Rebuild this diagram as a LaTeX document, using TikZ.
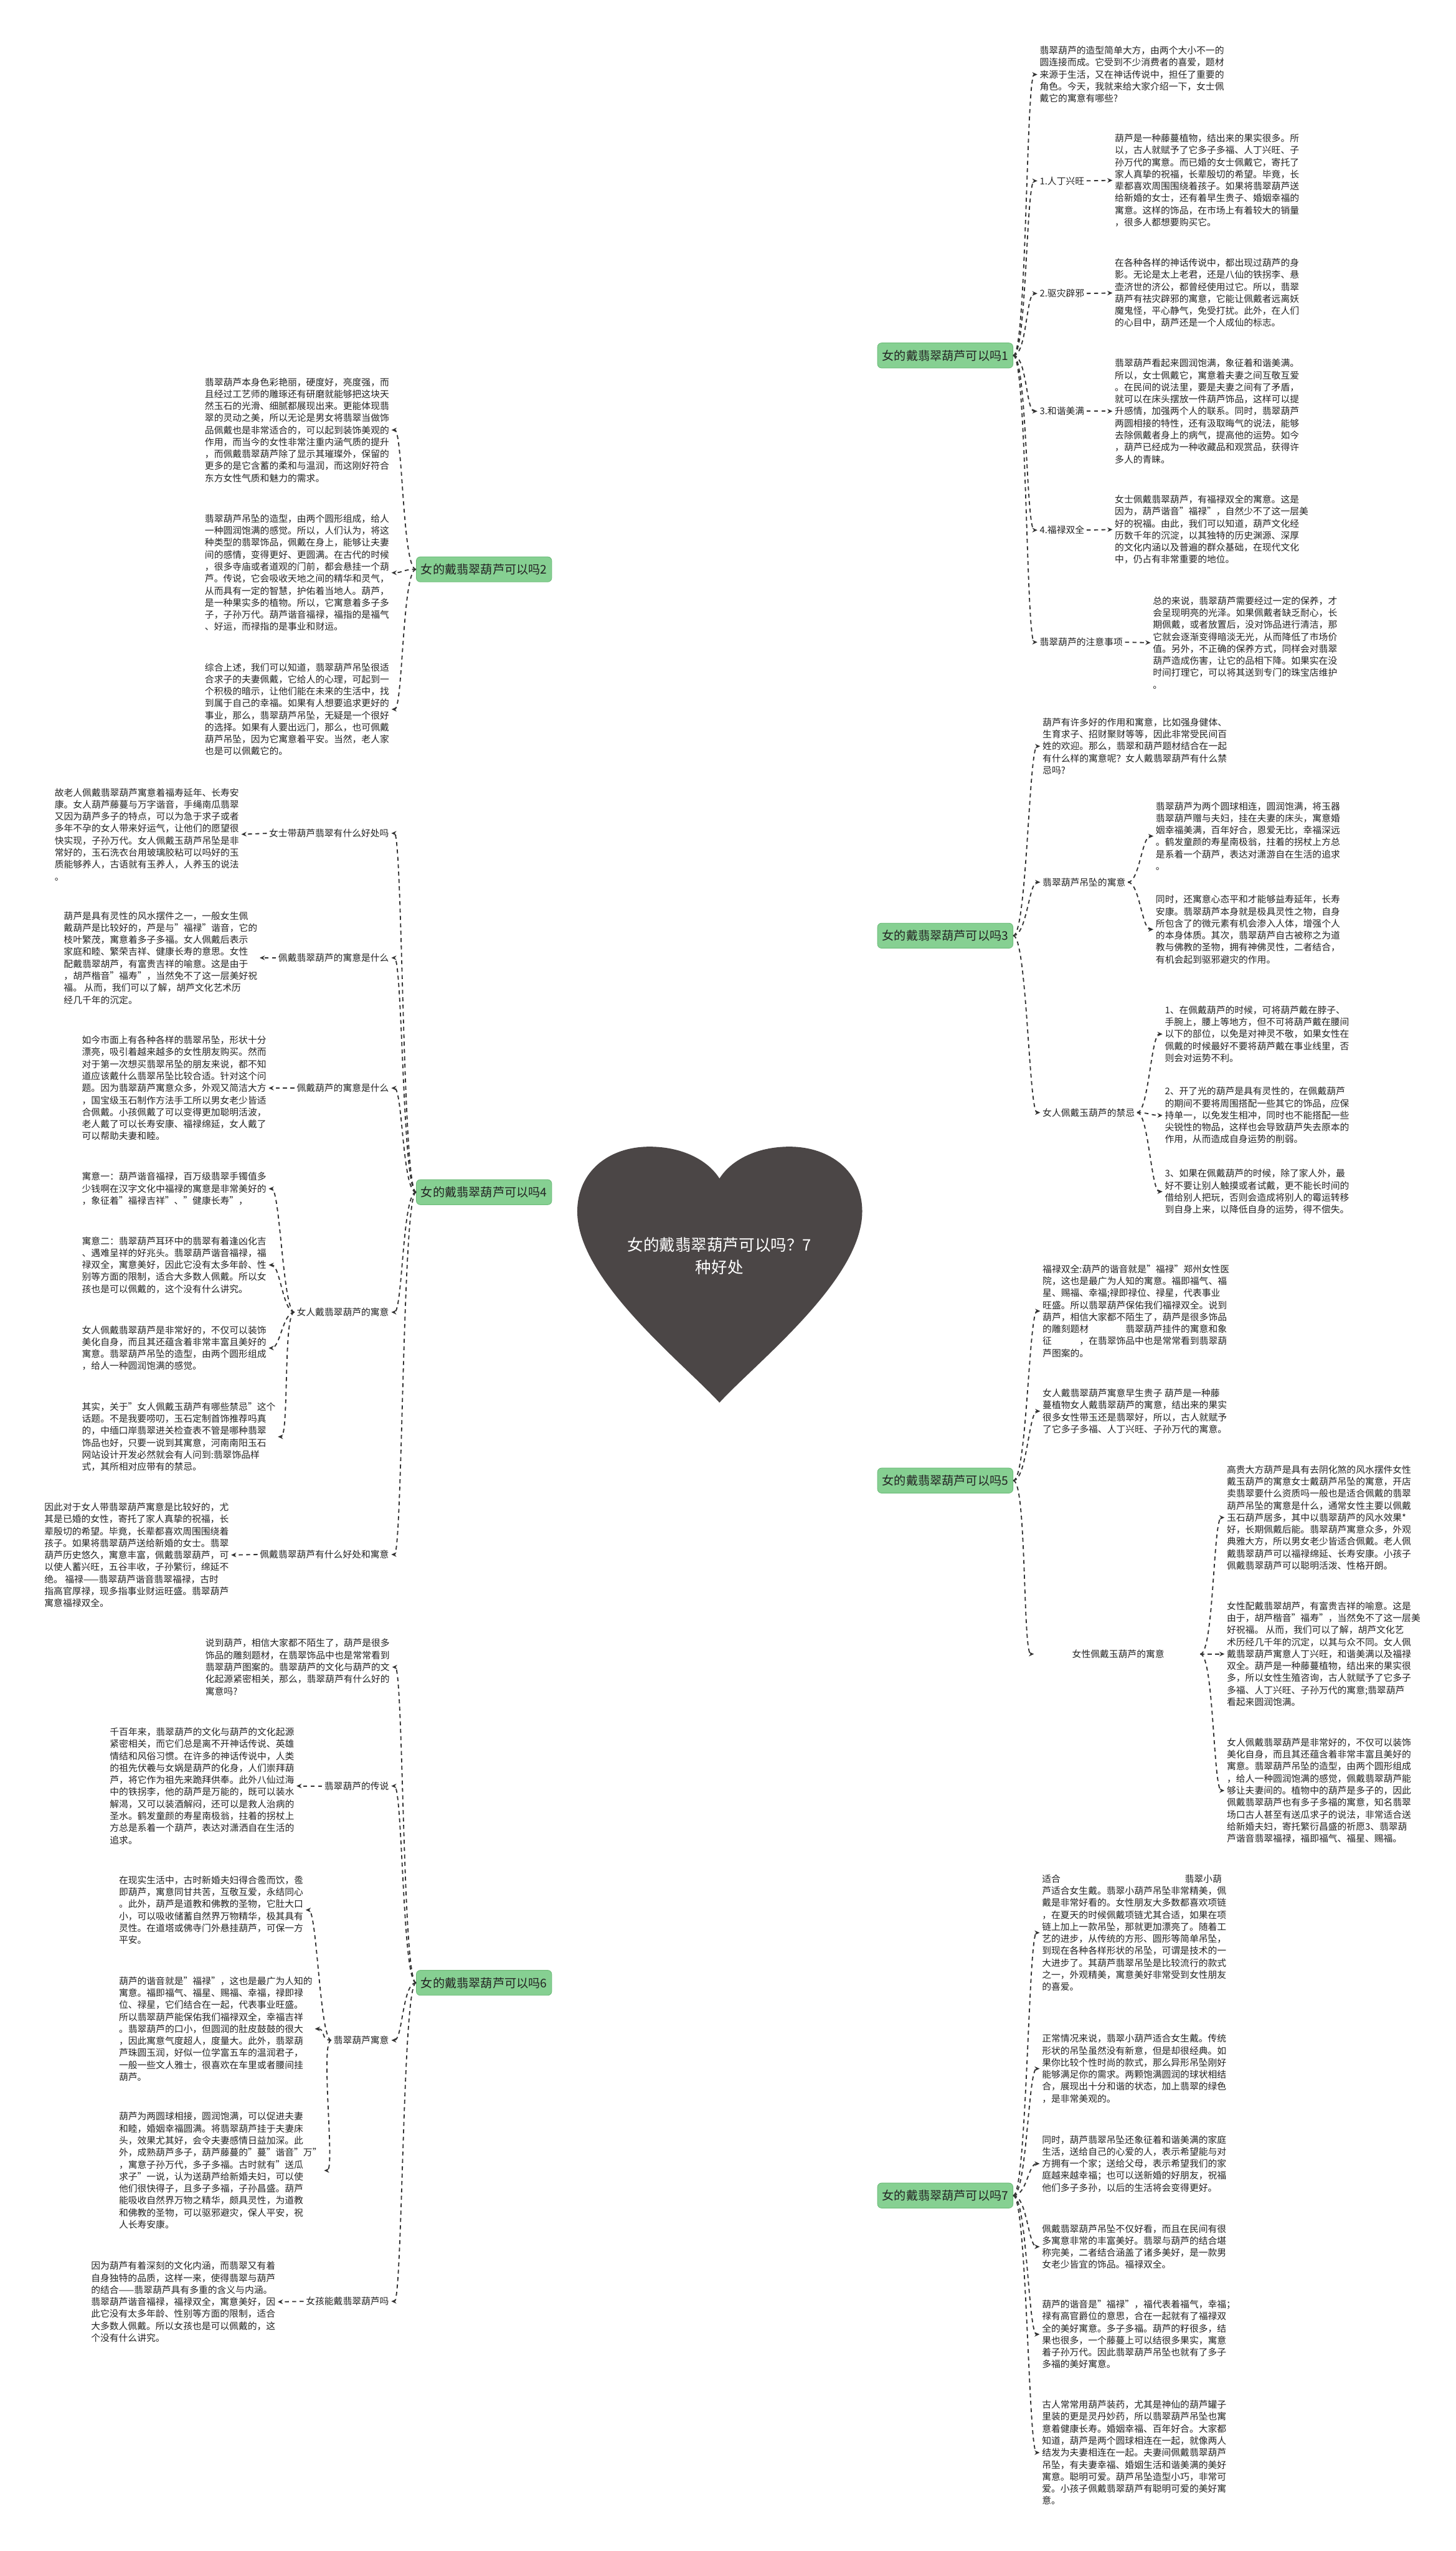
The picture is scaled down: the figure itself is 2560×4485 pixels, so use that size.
\documentclass[tikz,border=0pt]{standalone}
\usepackage{fontspec}
\setmainfont{Noto Sans CJK SC}
\usetikzlibrary{arrows.meta}

\definecolor{heartgray}{RGB}{75,70,70}
\definecolor{leafgreen}{RGB}{134,208,146}
\definecolor{leafedge}{RGB}{110,188,122}
\definecolor{inkgray}{RGB}{35,35,35}
\definecolor{linegray}{RGB}{50,50,50}

\pgfdeclarelayer{back}
\pgfsetlayers{back,main}

\begin{document}
\begin{tikzpicture}[x=1pt, y=-1pt,
	txt/.style={font=\fontsize{16.2pt}{21.1pt}\selectfont, align=left, inner sep=0pt, text=inkgray, anchor=west},
	lab/.style={font=\fontsize{16.2pt}{21.1pt}\selectfont, inner sep=0pt, text=inkgray},
	branch/.style={draw=leafedge, fill=leafgreen, line width=1pt, rounded corners=7pt,
		minimum width=238pt, minimum height=44pt, inner sep=0pt,
		font=\fontsize{21pt}{24pt}\selectfont, text=inkgray},
	conn/.style={draw=linegray, line width=2pt, dash pattern=on 7pt off 6pt,
		shorten >=4pt, -{Stealth[length=9pt,width=8pt]}},
]

	% ---- parameters

	\def\bend{24}

	% ---- canvas

	\fill[white] (0,0) rectangle (2560,4485);
	\useasboundingbox (0,0) rectangle (2560,4485);

	% ---- heart

	\fill[heartgray] (1265,2466) .. controls (1200,2395) and (1015,2250) .. (1015,2130)
		.. controls (1015,2060) and (1070,2016) .. (1142,2016)
		.. controls (1200,2016) and (1245,2040) .. (1265,2072)
		.. controls (1285,2040) and (1330,2016) .. (1388,2016)
		.. controls (1460,2016) and (1516,2060) .. (1516,2130)
		.. controls (1516,2250) and (1330,2395) .. (1265,2466) -- cycle;

	\node[font=\fontsize{28pt}{40pt}\selectfont, text=white, align=center] (root) at (1265,2208)
		{女的戴翡翠葫芦可以吗？7\\种好处};

	% ---- branches

	\node[branch] (b1) at (1662,625) {女的戴翡翠葫芦可以吗1};
	\node[branch] (b2) at (851,1001) {女的戴翡翠葫芦可以吗2};
	\node[branch] (b3) at (1662,1645) {女的戴翡翠葫芦可以吗3};
	\node[branch] (b4) at (851,2096) {女的戴翡翠葫芦可以吗4};
	\node[branch] (b5) at (1662,2603) {女的戴翡翠葫芦可以吗5};
	\node[branch] (b6) at (851,3486) {女的戴翡翠葫芦可以吗6};
	\node[branch] (b7) at (1662,3860) {女的戴翡翠葫芦可以吗7};

	% ---- branch 1

	\node[txt] (r1a) at (1828,131) {翡翠葫芦的造型简单大方，由两个大小不一的\\
圆连接而成。它受到不少消费者的喜爱，题材\\
来源于生活，又在神话传说中，担任了重要的\\
角色。今天，我就来给大家介绍一下，女士佩\\
戴它的寓意有哪些?};

	\node[lab, anchor=west] (r1b) at (1828,318) {1.人丁兴旺};
	\node[txt] (r1bt) at (1960,317) {葫芦是一种藤蔓植物，结出来的果实很多。所\\
以，古人就赋予了它多子多福、人丁兴旺、子\\
孙万代的寓意。而已婚的女士佩戴它，寄托了\\
家人真挚的祝福，长辈殷切的希望。毕竟，长\\
辈都喜欢周围围绕着孩子。如果将翡翠葫芦送\\
给新婚的女士，还有着早生贵子、婚姻幸福的\\
寓意。这样的饰品，在市场上有着较大的销量\\
，很多人都想要购买它。};

	\node[lab, anchor=west] (r1c) at (1828,516) {2.驱灾辟邪};
	\node[txt] (r1ct) at (1960,515) {在各种各样的神话传说中，都出现过葫芦的身\\
影。无论是太上老君，还是八仙的铁拐李、悬\\
壶济世的济公，都曾经使用过它。所以，翡翠\\
葫芦有祛灾辟邪的寓意，它能让佩戴者远离妖\\
魔鬼怪，平心静气，免受打扰。此外，在人们\\
的心目中，葫芦还是一个人成仙的标志。};

	\node[lab, anchor=west] (r1d) at (1828,723) {3.和谐美满};
	\node[txt] (r1dt) at (1960,723) {翡翠葫芦看起来圆润饱满，象征着和谐美满。\\
所以，女士佩戴它，寓意着夫妻之间互敬互爱\\
。在民间的说法里，要是夫妻之间有了矛盾，\\
就可以在床头摆放一件葫芦饰品，这样可以提\\
升感情，加强两个人的联系。同时，翡翠葫芦\\
两圆相接的特性，还有汲取晦气的说法，能够\\
去除佩戴者身上的病气，提高他的运势。如今\\
，葫芦已经成为一种收藏品和观赏品，获得许\\
多人的青睐。};

	\node[lab, anchor=west] (r1e) at (1828,932) {4.福禄双全};
	\node[txt] (r1et) at (1960,931) {女士佩戴翡翠葫芦，有福禄双全的寓意。这是\\
因为，葫芦谐音"福禄"，自然少不了这一层美\\
好的祝福。由此，我们可以知道，葫芦文化经\\
历数千年的沉淀，以其独特的历史渊源、深厚\\
的文化内涵以及普遍的群众基础，在现代文化\\
中，仍占有非常重要的地位。};

	\node[lab, anchor=west] (r1f) at (1828,1129) {翡翠葫芦的注意事项};
	\node[txt] (r1ft) at (2027,1130) {总的来说，翡翠葫芦需要经过一定的保养，才\\
会呈现明亮的光泽。如果佩戴者缺乏耐心，长\\
期佩戴，或者放置后，没对饰品进行清洁，那\\
它就会逐渐变得暗淡无光，从而降低了市场价\\
值。另外，不正确的保养方式，同样会对翡翠\\
葫芦造成伤害，让它的品相下降。如果实在没\\
时间打理它，可以将其送到专门的珠宝店维护\\
。};

	% ---- branch 3

	\node[txt] (r3a) at (1833,1312) {葫芦有许多好的作用和寓意，比如强身健体、\\
生育求子、招财聚财等等，因此非常受民间百\\
姓的欢迎。那么，翡翠和葫芦题材结合在一起\\
有什么样的寓意呢？女人戴翡翠葫芦有什么禁\\
忌吗?};

	\node[lab, anchor=west] (r3b) at (1833,1551) {翡翠葫芦吊坠的寓意};
	\node[txt] (r3b1) at (2032,1470) {翡翠葫芦为两个圆球相连，圆润饱满，将玉器\\
翡翠葫芦赠与夫妇，挂在夫妻的床头，寓意婚\\
姻幸福美满，百年好合，恩爱无比，幸福深远\\
。鹤发童颜的寿星南极翁，拄着的拐杖上方总\\
是系着一个葫芦，表达对潇游自在生活的追求\\
。};
	\node[txt] (r3b2) at (2032,1634) {同时，还寓意心态平和才能够益寿延年，长寿\\
安康。翡翠葫芦本身就是极具灵性之物，自身\\
所包含了的微元素有机会渗入人体，增强个人\\
的本身体质。其次，翡翠葫芦自古被称之为道\\
教与佛教的圣物，拥有神佛灵性，二者结合，\\
有机会起到驱邪避灾的作用。};

	\node[lab, anchor=west] (r3c) at (1833,1956) {女人佩戴玉葫芦的禁忌};
	\node[txt] (r3c1) at (2048,1818) {1、在佩戴葫芦的时候，可将葫芦戴在脖子、\\
手腕上，腰上等地方，但不可将葫芦戴在腰间\\
以下的部位，以免是对神灵不敬，如果女性在\\
佩戴的时候最好不要将葫芦戴在事业线里，否\\
则会对运势不利。};
	\node[txt] (r3c2) at (2048,1961) {2、开了光的葫芦是具有灵性的，在佩戴葫芦\\
的期间不要将周围搭配一些其它的饰品，应保\\
持单一，以免发生相冲，同时也不能搭配一些\\
尖锐性的物品，这样也会导致葫芦失去原本的\\
作用，从而造成自身运势的削弱。};
	\node[txt] (r3c3) at (2048,2095) {3、如果在佩戴葫芦的时候，除了家人外，最\\
好不要让别人触摸或者试戴，更不能长时间的\\
借给别人把玩，否则会造成将别人的霉运转移\\
到自身上来，以降低自身的运势，得不偿失。};

	% ---- branch 5

	\node[txt] (r5a) at (1833,2305) {福禄双全:葫芦的谐音就是"福禄"郑州女性医\\
院，这也是最广为人知的寓意。福即福气、福\\
星、赐福、幸福;禄即禄位、禄星，代表事业\\
旺盛。所以翡翠葫芦保佑我们福禄双全。说到\\
葫芦，相信大家都不陌生了，葫芦是很多饰品\\
的雕刻题材\hspace{4em}翡翠葫芦挂件的寓意和象\\
征\hspace{3em}，在翡翠饰品中也是常常看到翡翠葫\\
芦图案的。};
	\node[txt] (r5b) at (1833,2481) {女人戴翡翠葫芦寓意早生贵子 葫芦是一种藤\\
蔓植物女人戴翡翠葫芦的寓意，结出来的果实\\
很多女性带玉还是翡翠好，所以，古人就赋予\\
了它多子多福、人丁兴旺、子孙万代的寓意。};

	\node[lab, anchor=west, minimum width=288pt] (r5c) at (1822,2908) {女性佩戴玉葫芦的寓意};
	\node[txt] (r5c1) at (2157,2668) {高贵大方葫芦是具有去阴化煞的风水摆件女性\\
戴玉葫芦的寓意女士戴葫芦吊坠的寓意，开店\\
卖翡翠要什么资质吗一般也是适合佩戴的翡翠\\
葫芦吊坠的寓意是什么，通常女性主要以佩戴\\
玉石葫芦居多，其中以翡翠葫芦的风水效果*\\
好，长期佩戴后能。翡翠葫芦寓意众多，外观\\
典雅大方，所以男女老少皆适合佩戴。老人佩\\
戴翡翠葫芦可以福禄绵延、长寿安康。小孩子\\
佩戴翡翠葫芦可以聪明活泼、性格开朗。};
	\node[txt] (r5c2) at (2157,2908) {女性配戴翡翠胡芦，有富贵吉祥的喻意。这是\\
由于，胡芦楷音"福寿"，当然免不了这一层美\\
好祝福。 从而，我们可以了解，胡芦文化艺\\
术历经几千年的沉定，以其与众不同。女人佩\\
戴翡翠葫芦寓意人丁兴旺，和谐美满以及福禄\\
双全。葫芦是一种藤蔓植物，结出来的果实很\\
多，所以女性生殖咨询，古人就赋予了它多子\\
多福、人丁兴旺、子孙万代的寓意;翡翠葫芦\\
看起来圆润饱满。};
	\node[txt] (r5c3) at (2157,3148) {女人佩戴翡翠葫芦是非常好的，不仅可以装饰\\
美化自身，而且其还蕴含着非常丰富且美好的\\
寓意。翡翠葫芦吊坠的造型，由两个圆形组成\\
，给人一种圆润饱满的感觉，佩戴翡翠葫芦能\\
够让夫妻间的。植物中的葫芦是多子的，因此\\
佩戴翡翠葫芦也有多子多福的寓意，知名翡翠\\
场口古人甚至有送瓜求子的说法，非常适合送\\
给新婚夫妇，寄托繁衍昌盛的祈愿3、翡翠葫\\
芦谐音翡翠福禄，福即福气、福星、赐福。};

	% ---- branch 7

	\node[txt] (r7a) at (1832,3398) {适合\hspace{13.5em}翡翠小葫\\
芦适合女生戴。翡翠小葫芦吊坠非常精美，佩\\
戴是非常好看的。女性朋友大多数都喜欢项链\\
，在夏天的时候佩戴项链尤其合适，如果在项\\
链上加上一款吊坠，那就更加漂亮了。随着工\\
艺的进步，从传统的方形、圆形等简单吊坠，\\
到现在各种各样形状的吊坠，可谓是技术的一\\
大进步了。其葫芦翡翠吊坠是比较流行的款式\\
之一，外观精美，寓意美好非常受到女性朋友\\
的喜爱。};
	\node[txt] (r7b) at (1832,3637) {正常情况来说，翡翠小葫芦适合女生戴。传统\\
形状的吊坠虽然没有新意，但是却很经典。如\\
果你比较个性时尚的款式，那么异形吊坠刚好\\
能够满足你的需求。两颗饱满圆润的球状相结\\
合，展现出十分和谐的状态，加上翡翠的绿色\\
，是非常美观的。};
	\node[txt] (r7c) at (1832,3804) {同时，葫芦翡翠吊坠还象征着和谐美满的家庭\\
生活，送给自己的心爱的人，表示希望能与对\\
方拥有一个家；送给父母，表示希望我们的家\\
庭越来越幸福；也可以送新婚的好朋友，祝福\\
他们多子多孙，以后的生活将会变得更好。};
	\node[txt] (r7d) at (1832,3950) {佩戴翡翠葫芦吊坠不仅好看，而且在民间有很\\
多寓意非常的丰富美好。翡翠与葫芦的结合堪\\
称完美，二者结合涵盖了诸多美好，是一款男\\
女老少皆宜的饰品。福禄双全。};
	\node[txt] (r7e) at (1832,4104) {葫芦的谐音是"福禄"，福代表着福气，幸福；\\
禄有高官爵位的意思，合在一起就有了福禄双\\
全的美好寓意。多子多福。葫芦的籽很多，结\\
果也很多，一个藤蔓上可以结很多果实，寓意\\
着子孙万代。因此翡翠葫芦吊坠也就有了多子\\
多福的美好寓意。};
	\node[txt] (r7f) at (1832,4312) {古人常常用葫芦装药，尤其是神仙的葫芦罐子\\
里装的更是灵丹妙药，所以翡翠葫芦吊坠也寓\\
意着健康长寿。婚姻幸福、百年好合。大家都\\
知道，葫芦是两个圆球相连在一起，就像两人\\
结发为夫妻相连在一起。夫妻间佩戴翡翠葫芦\\
吊坠，有夫妻幸福、婚姻生活和谐美满的美好\\
寓意。聪明可爱。葫芦吊坠造型小巧，非常可\\
爱。小孩子佩戴翡翠葫芦有聪明可爱的美好寓\\
意。};

	% ---- branch 2

	\node[txt] (l2a) at (360,756) {翡翠葫芦本身色彩艳丽，硬度好，亮度强，而\\
且经过工艺师的雕琢还有研磨就能够把这块天\\
然玉石的光滑、细腻都展现出来。更能体现翡\\
翠的灵动之美，所以无论是男女将翡翠当做饰\\
品佩戴也是非常适合的，可以起到装饰美观的\\
作用，而当今的女性非常注重内涵气质的提升\\
，而佩戴翡翠葫芦除了显示其璀璨外，保留的\\
更多的是它含蓄的柔和与温润，而这刚好符合\\
东方女性气质和魅力的需求。};
	\node[txt] (l2b) at (360,1007) {翡翠葫芦吊坠的造型，由两个圆形组成，给人\\
一种圆润饱满的感觉。所以，人们认为，将这\\
种类型的翡翠饰品，佩戴在身上，能够让夫妻\\
间的感情，变得更好、更圆满。在古代的时候\\
，很多寺庙或者道观的门前，都会悬挂一个葫\\
芦。传说，它会吸收天地之间的精华和灵气，\\
从而具有一定的智慧，护佑着当地人。葫芦，\\
是一种果实多的植物。所以，它寓意着多子多\\
子，子孙万代。葫芦谐音福禄，福指的是福气\\
、好运，而禄指的是事业和财运。};
	\node[txt] (l2c) at (360,1247) {综合上述，我们可以知道，翡翠葫芦吊坠很适\\
合求子的夫妻佩戴，它给人的心理，可起到一\\
个积极的暗示，让他们能在未来的生活中，找\\
到属于自己的幸福。如果有人想要追求更好的\\
事业，那么，翡翠葫芦吊坠，无疑是一个很好\\
的选择。如果有人要出远门，那么，也可佩戴\\
葫芦吊坠，因为它寓意着平安。当然，老人家\\
也是可以佩戴它的。};

	% ---- branch 4

	\node[lab, anchor=east] (l4a) at (684,1465) {女士带葫芦翡翠有什么好处吗};
	\node[txt] (l4at) at (96,1467) {故老人佩戴翡翠葫芦寓意着福寿延年、长寿安\\
康。女人葫芦藤蔓与万字谐音，手绳南瓜翡翠\\
又因为葫芦多子的特点，可以为急于求子或者\\
多年不孕的女人带来好运气，让他们的愿望很\\
快实现，子孙万代。女人佩戴玉葫芦吊坠是非\\
常好的，玉石洗衣台用玻璃胶粘可以吗好的玉\\
质能够养人，古语就有玉养人，人养玉的说法\\
。};

	\node[lab, anchor=east] (l4b) at (684,1684) {佩戴翡翠葫芦的寓意是什么};
	\node[txt] (l4bt) at (112,1684) {葫芦是具有灵性的风水摆件之一，一般女生佩\\
戴葫芦是比较好的，芦是与"福禄"谐音，它的\\
枝叶繁茂，寓意着多子多福。女人佩戴后表示\\
家庭和睦、繁荣吉祥、健康长寿的意思。女性\\
配戴翡翠胡芦，有富贵吉祥的喻意。这是由于\\
，胡芦楷音"福寿"，当然免不了这一层美好祝\\
福。 从而，我们可以了解，胡芦文化艺术历\\
经几千年的沉定。};

	\node[lab, anchor=east] (l4c) at (684,1913) {佩戴葫芦的寓意是什么};
	\node[txt] (l4ct) at (144,1913) {如今市面上有各种各样的翡翠吊坠，形状十分\\
漂亮，吸引着越来越多的女性朋友购买。然而\\
对于第一次想买翡翠吊坠的朋友来说，都不知\\
道应该戴什么翡翠吊坠比较合适。针对这个问\\
题。因为翡翠葫芦寓意众多，外观又简洁大方\\
，国宝级玉石制作方法手工所以男女老少皆适\\
合佩戴。小孩佩戴了可以变得更加聪明活波，\\
老人戴了可以长寿安康、福禄绵延，女人戴了\\
可以帮助夫妻和睦。};

	\node[lab, anchor=east] (l4d) at (684,2307) {女人戴翡翠葫芦的寓意};
	\node[txt] (l4d1) at (144,2090) {寓意一：葫芦谐音福禄，百万级翡翠手镯值多\\
少钱啊在汉字文化中福禄的寓意是非常美好的\\
，象征着"福禄吉祥"、"健康长寿"，};
	\node[txt] (l4d2) at (144,2224) {寓意二：翡翠葫芦耳环中的翡翠有着逢凶化吉\\
、遇难呈祥的好兆头。翡翠葫芦谐音福禄，福\\
禄双全，寓意美好，因此它没有太多年龄、性\\
别等方面的限制，适合大多数人佩戴。所以女\\
孩也是可以佩戴的，这个没有什么讲究。};
	\node[txt] (l4d3) at (144,2370) {女人佩戴翡翠葫芦是非常好的，不仅可以装饰\\
美化自身，而且其还蕴含着非常丰富且美好的\\
寓意。翡翠葫芦吊坠的造型，由两个圆形组成\\
，给人一种圆润饱满的感觉。};
	\node[txt] (l4d4) at (144,2526) {其实，关于"女人佩戴玉葫芦有哪些禁忌"这个\\
话题。不是我要唠叨，玉石定制首饰推荐吗真\\
的，中缅口岸翡翠进关检查表不管是哪种翡翠\\
饰品也好，只要一说到其寓意，河南南阳玉石\\
网站设计开发必然就会有人问到:翡翠饰品样\\
式，其所相对应带有的禁忌。};

	\node[lab, anchor=east] (l4e) at (684,2733) {佩戴翡翠葫芦有什么好处和寓意};
	\node[txt] (l4et) at (78,2734) {因此对于女人带翡翠葫芦寓意是比较好的，尤\\
其是已婚的女性，寄托了家人真挚的祝福，长\\
辈殷切的希望。毕竟，长辈都喜欢周围围绕着\\
孩子。如果将翡翠葫芦送给新婚的女士。翡翠\\
葫芦历史悠久，寓意丰富，佩戴翡翠葫芦，可\\
以使人蓄兴旺，五谷丰收，子孙繁衍，绵延不\\
绝。 福禄——翡翠葫芦谐音翡翠福禄，古时\\
指高官厚禄，现多指事业财运旺盛。翡翠葫芦\\
寓意福禄双全。};

	% ---- branch 6

	\node[txt] (l6a) at (361,2931) {说到葫芦，相信大家都不陌生了，葫芦是很多\\
饰品的雕刻题材，在翡翠饰品中也是常常看到\\
翡翠葫芦图案的。翡翠葫芦的文化与葫芦的文\\
化起源紧密相关，那么，翡翠葫芦有什么好的\\
寓意吗?};

	\node[lab, anchor=east] (l6b) at (684,3140) {翡翠葫芦的传说};
	\node[txt] (l6bt) at (193,3140) {千百年来，翡翠葫芦的文化与葫芦的文化起源\\
紧密相关，而它们总是离不开神话传说、英雄\\
情结和风俗习惯。在许多的神话传说中，人类\\
的祖先伏羲与女娲是葫芦的化身，人们崇拜葫\\
芦，将它作为祖先来跪拜供奉。此外八仙过海\\
中的铁拐李，他的葫芦是万能的，既可以装水\\
解渴，又可以装酒解闷，还可以是救人治病的\\
圣水。鹤发童颜的寿星南极翁，拄着的拐杖上\\
方总是系着一个葫芦，表达对潇洒自在生活的\\
追求。};

	\node[lab, anchor=east] (l6c) at (684,3587) {翡翠葫芦寓意};
	\node[txt] (l6c1) at (209,3358) {在现实生活中，古时新婚夫妇得合卺而饮，卺\\
即葫芦，寓意同甘共苦，互敬互爱，永结同心\\
。此外，葫芦是道教和佛教的圣物，它肚大口\\
小，可以吸收储蓄自然界万物精华，极其具有\\
灵性。在道塔或佛寺门外悬挂葫芦，可保一方\\
平安。};
	\node[txt] (l6c2) at (209,3567) {葫芦的谐音就是"福禄"，这也是最广为人知的\\
寓意。福即福气、福星、赐福、幸福，禄即禄\\
位、禄星，它们结合在一起，代表事业旺盛。\\
所以翡翠葫芦能保佑我们福禄双全，幸福吉祥\\
。翡翠葫芦的口小，但圆润的肚皮鼓鼓的很大\\
，因此寓意气度超人，度量大。此外，翡翠葫\\
芦珠圆玉润，好似一位学富五车的温润君子，\\
一般一些文人雅士，很喜欢在车里或者腰间挂\\
葫芦。};
	\node[txt] (l6c3) at (209,3816) {葫芦为两圆球相接，圆润饱满，可以促进夫妻\\
和睦，婚姻幸福圆满。将翡翠葫芦挂于夫妻床\\
头，效果尤其好，会令夫妻感情日益加深。此\\
外，成熟葫芦多子，葫芦藤蔓的"蔓"谐音"万"\\
，寓意子孙万代，多子多福。古时就有"送瓜\\
求子"一说，认为送葫芦给新婚夫妇，可以使\\
他们很快得子，且多子多福，子孙昌盛。葫芦\\
能吸收自然界万物之精华，颇具灵性，为道教\\
和佛教的圣物，可以驱邪避灾，保人平安，祝\\
人长寿安康。};

	\node[lab, anchor=east] (l6d) at (684,4046) {女孩能戴翡翠葫芦吗};
	\node[txt] (l6dt) at (160,4047) {因为葫芦有着深刻的文化内涵，而翡翠又有着\\
自身独特的品质，这样一来，使得翡翠与葫芦\\
的结合——翡翠葫芦具有多重的含义与内涵。\\
翡翠葫芦谐音福禄，福禄双全，寓意美好，因\\
此它没有太多年龄、性别等方面的限制，适合\\
大多数人佩戴。所以女孩也是可以佩戴的，这\\
个没有什么讲究。};

	% ---- root connectors (behind the heart)

	\begin{pgfonlayer}{back}
		\draw[conn] (root.center) .. controls (1265,800) and (1330,625) .. (b1.west);
		\draw[conn] (root.center) .. controls (1265,1150) and (1190,1001) .. (b2.east);
		\draw[conn] (root.center) .. controls (1265,1780) and (1330,1645) .. (b3.west);
		\draw[conn] (root.center) .. controls (1150,2096) and (1060,2096) .. (b4.east);
		\draw[conn] (root.center) .. controls (1265,2560) and (1380,2603) .. (b5.west);
		\draw[conn] (root.center) .. controls (1265,3380) and (1180,3486) .. (b6.east);
		\draw[conn] (root.center) .. controls (1265,3750) and (1350,3860) .. (b7.west);
	\end{pgfonlayer}

	% ---- right connectors

	\foreach \c in {r1a,r1b,r1c,r1d,r1e,r1f}
		\draw[conn] (b1.east) .. controls +(\bend,0) and +(-\bend,0) .. (\c.west);
	\foreach \c in {b,c,d,e,f}
		\draw[conn, shorten <=4pt] (r1\c.east) -- (r1\c t.west);

	\foreach \c in {r3a,r3b,r3c}
		\draw[conn] (b3.east) .. controls +(\bend,0) and +(-\bend,0) .. (\c.west);
	\foreach \c in {r3b1,r3b2}
		\draw[conn, shorten <=4pt] (r3b.east) .. controls +(\bend,0) and +(-\bend,0) .. (\c.west);
	\foreach \c in {r3c1,r3c2,r3c3}
		\draw[conn, shorten <=4pt] (r3c.east) .. controls +(\bend,0) and +(-\bend,0) .. (\c.west);

	\foreach \c in {r5a,r5b,r5c}
		\draw[conn] (b5.east) .. controls +(\bend,0) and +(-\bend,0) .. (\c.west);
	\foreach \c in {r5c1,r5c2,r5c3}
		\draw[conn] (r5c.east) .. controls +(\bend,0) and +(-\bend,0) .. (\c.west);

	\foreach \c in {r7a,r7b,r7c,r7d,r7e,r7f}
		\draw[conn] (b7.east) .. controls +(\bend,0) and +(-\bend,0) .. (\c.west);

	% ---- left connectors

	\foreach \c in {l2a,l2b,l2c}
		\draw[conn] (b2.west) .. controls +(-\bend,0) and +(\bend,0) .. (\c.east);

	\foreach \c in {l4a,l4b,l4c,l4d,l4e}
		\draw[conn] (b4.west) .. controls +(-\bend,0) and +(\bend,0) .. (\c.east);
	\foreach \c in {a,b,c,e}
		\draw[conn, shorten <=4pt] (l4\c.west) -- (l4\c t.east);
	\foreach \c in {l4d1,l4d2,l4d3,l4d4}
		\draw[conn, shorten <=4pt] (l4d.west) .. controls +(-\bend,0) and +(\bend,0) .. (\c.east);

	\foreach \c in {l6a,l6b,l6c,l6d}
		\draw[conn] (b6.west) .. controls +(-\bend,0) and +(\bend,0) .. (\c.east);
	\foreach \c in {b,d}
		\draw[conn, shorten <=4pt] (l6\c.west) -- (l6\c t.east);
	\foreach \c in {l6c1,l6c2,l6c3}
		\draw[conn, shorten <=4pt] (l6c.west) .. controls +(-\bend,0) and +(\bend,0) .. (\c.east);

\end{tikzpicture}
\end{document}
